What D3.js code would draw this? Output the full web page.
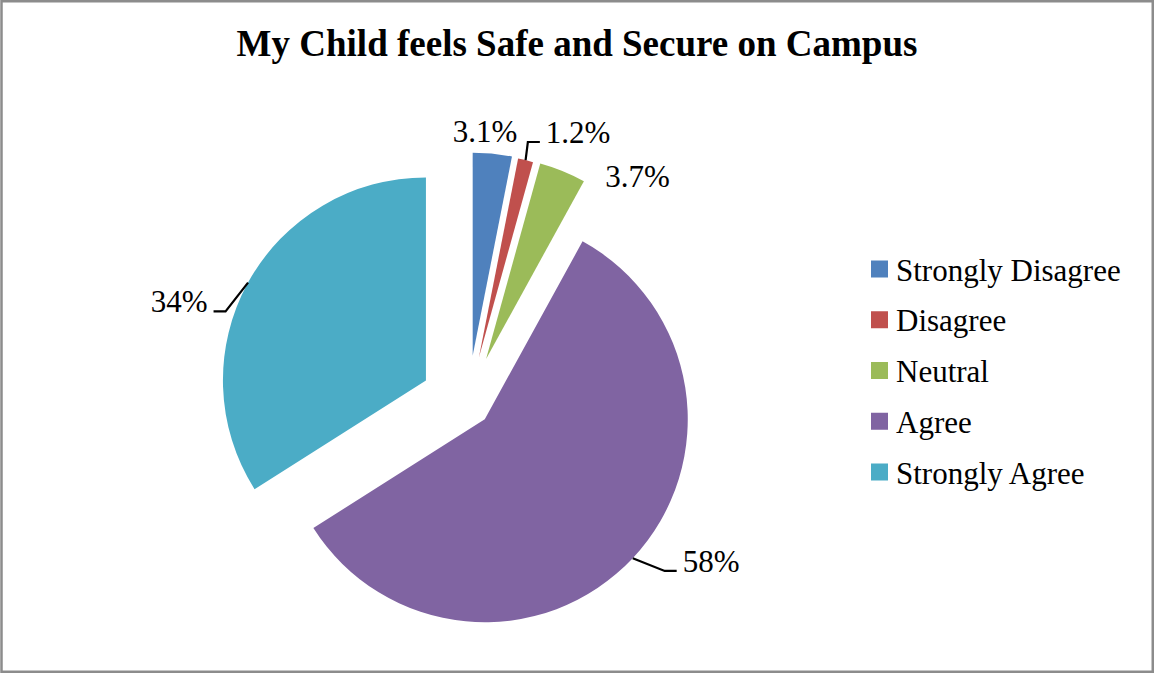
<!DOCTYPE html>
<html>
<head>
<meta charset="utf-8">
<script src="https://cdn.jsdelivr.net/npm/d3@7"></script>
<style>
  html, body { margin: 0; padding: 0; background: #fff; }
  svg { display: block; }
  text { font-family: "Liberation Serif", "Times New Roman", serif; fill: #000; }
</style>
</head>
<body>
<svg id="chart" width="1154" height="673"></svg>
<script>
// ---- data ----
const title = "My Child feels Safe and Secure on Campus";
const categories = ["Strongly Disagree", "Disagree", "Neutral", "Agree", "Strongly Agree"];
const values = [3.1, 1.2, 3.7, 58, 34];
const valueLabels = ["3.1%", "1.2%", "3.7%", "58%", "34%"];

// ---- styles ----
const colors = ["#4F81BD", "#C0504D", "#9BBB59", "#8064A2", "#4BACC6"];
const explode = [48, 47, 48, 23, 48];                 // per-slice explosion (px)
const labelAngleShift = [-2.3, 11.5, 19.3, -9.2, -13.4]; // degrees from slice mid-angle
const labelDist = [214, 236.6, 229, 273, 256];           // distance of label baseline-centre
const labelLeader = [false, true, false, true, true];

const W = 1154, H = 673;
const cx = 468, cy = 403.5, R = 203;
const fontSize = 31;

const svg = d3.select("#chart");

// border
svg.append("rect")
  .attr("x", 1.5).attr("y", 1.25)
  .attr("width", W - 2.75).attr("height", H - 2.5)
  .attr("fill", "#fff")
  .attr("stroke", "#8c8c8c")
  .attr("stroke-width", 2.5);

// title
svg.append("text")
  .attr("x", 577).attr("y", 56)
  .attr("text-anchor", "middle")
  .style("font-size", "37px")
  .style("font-weight", "bold")
  .text(title);

const pie = d3.pie().sort(null).value(d => d).startAngle(0).endAngle(2 * Math.PI);
const arcs = pie(values);
const arc = d3.arc().innerRadius(0).outerRadius(R);

const g = svg.append("g").attr("transform", `translate(${cx},${cy})`);

function polar(angle, r) { return [Math.sin(angle) * r, -Math.cos(angle) * r]; }

arcs.forEach((a, i) => {
  const mid = (a.startAngle + a.endAngle) / 2;
  a.mid = mid;
  a.offset = polar(mid, explode[i]);
});

g.selectAll("path.slice")
  .data(arcs)
  .join("path")
  .attr("class", "slice")
  .attr("transform", d => `translate(${d.offset[0]},${d.offset[1]})`)
  .attr("d", arc)
  .attr("fill", (d, i) => colors[i]);

// labels
arcs.forEach((a, i) => {
  const la = a.mid + labelAngleShift[i] * Math.PI / 180;
  const p = polar(la, labelDist[i]);
  const lx = a.offset[0] + p[0], ly = a.offset[1] + p[1];
  const t = g.append("text")
    .attr("x", lx).attr("y", ly)
    .attr("text-anchor", "middle")
    .style("font-size", fontSize + "px")
    .text(valueLabels[i]);
  if (labelLeader[i]) {
    const w = t.node().getComputedTextLength();
    const s = polar(a.mid, R);
    const sx = a.offset[0] + s[0], sy = a.offset[1] + s[1];
    const gap = 6, hl = 12;
    let ex, elx;
    if (lx > sx) { ex = lx - w / 2 - gap; elx = ex - hl; }
    else { ex = lx + w / 2 + gap; elx = ex + hl; }
    if ((lx > sx && elx < sx) || (lx <= sx && elx > sx)) elx = sx;
    const ey = ly - 1;
    g.append("path")
      .attr("d", d3.line()([[sx, sy], [elx, ey], [ex, ey]]))
      .attr("fill", "none")
      .attr("stroke", "#000")
      .attr("stroke-width", 2.2);
  }
});

// legend
const legend = svg.append("g").attr("transform", "translate(871,269)");
const rowH = 50.75, sq = 17;
const rows = legend.selectAll("g.row")
  .data(categories)
  .join("g")
  .attr("class", "row")
  .attr("transform", (d, i) => `translate(0,${i * rowH})`);
rows.append("rect")
  .attr("x", 0).attr("y", -sq / 2)
  .attr("width", sq).attr("height", sq)
  .attr("fill", (d, i) => colors[i]);
rows.append("text")
  .attr("x", 25).attr("y", 11.5)
  .style("font-size", fontSize + "px")
  .text(d => d);
</script>
</body>
</html>
